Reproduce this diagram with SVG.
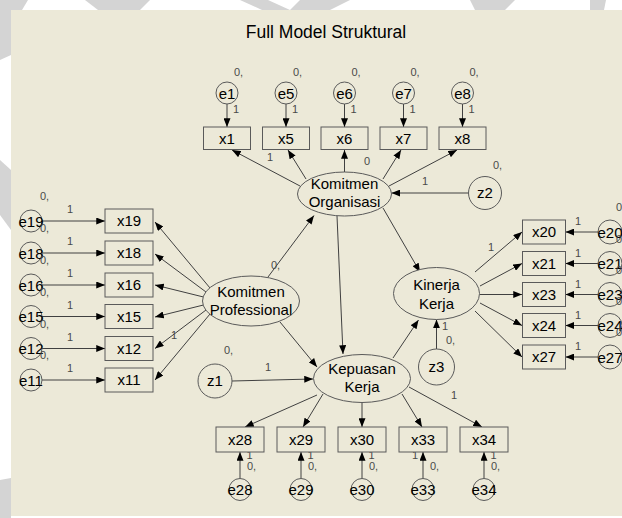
<svg xmlns="http://www.w3.org/2000/svg" width="622" height="518" viewBox="0 0 622 518">
  <style>
    .bg { fill: #ffffff; }
    .wm { fill: #d4d4d4; }
    .panel { fill: #ECE9D8; }
    .box { fill: #ECE9D8; stroke: #5a5a5a; stroke-width: 1; }
    .ell { fill: #ECE9D8; stroke: #5a5a5a; stroke-width: 1; }
    .c { stroke: #404040; stroke-width: 1; fill: none; marker-end: url(#ah); }
    .t { font-family: "Liberation Sans", Arial, sans-serif; font-size: 15px; fill: #000; text-anchor: middle; }
    .title { font-family: "Liberation Sans", Arial, sans-serif; font-size: 17.5px; fill: #000; text-anchor: middle; }
    .p { font-family: "Liberation Sans", Arial, sans-serif; font-size: 11px; fill: #4a4a4a; }
  </style>
  <defs>
    <marker id="ah" viewBox="0 0 10 8" refX="10" refY="4" markerWidth="9" markerHeight="7" markerUnits="userSpaceOnUse" orient="auto">
      <path d="M0,0 L10,4 L0,8 z" fill="#000"/>
    </marker>
  </defs>

  <!-- page background and frame -->
  <rect class="bg" x="0" y="0" width="622" height="518"/>
  <g id="margin-marks">
    <polygon class="wm" points="0,0 28,0 22,10 0,10"/>
    <polygon class="wm" points="85,0 150,0 140,10 98,10"/>
    <polygon class="wm" points="240,0 268,0 290,10 262,10"/>
    <polygon class="wm" points="300,0 350,0 330,10 290,10"/>
    <polygon class="wm" points="470,0 515,0 505,10 475,10"/>
    <polygon class="wm" points="590,0 606,0 604,10 590,10"/>
    <polygon class="wm" points="0,0 11,0 11,55 0,60"/>
    <polygon class="wm" points="0,160 11,170 11,230 0,215"/>
    <polygon class="wm" points="0,480 11,478 11,518 0,518"/>
  </g>
  <rect class="panel" x="11" y="10" width="611" height="506"/>

  <text class="title" x="326" y="38">Full Model Struktural</text>

  <!-- connectors -->
  <g id="connectors">
    <!-- error terms to indicators (top) -->
    <line class="c" x1="227" y1="104" x2="227" y2="127"/>
    <line class="c" x1="286" y1="104" x2="286" y2="127"/>
    <line class="c" x1="344.5" y1="104" x2="344.5" y2="127"/>
    <line class="c" x1="403.5" y1="104" x2="403.5" y2="127"/>
    <line class="c" x1="462.5" y1="104" x2="462.5" y2="127"/>
    <!-- error terms to indicators (left) -->
    <line class="c" x1="42" y1="221" x2="105" y2="221"/>
    <line class="c" x1="42" y1="253" x2="105" y2="253"/>
    <line class="c" x1="42" y1="285" x2="105" y2="285"/>
    <line class="c" x1="42" y1="316.5" x2="105" y2="316.5"/>
    <line class="c" x1="42" y1="348.5" x2="105" y2="348.5"/>
    <line class="c" x1="42" y1="380" x2="105" y2="380"/>
    <!-- error terms to indicators (right) -->
    <line class="c" x1="598" y1="232" x2="565.5" y2="232"/>
    <line class="c" x1="598" y1="263.5" x2="565.5" y2="263.5"/>
    <line class="c" x1="598" y1="294.5" x2="565.5" y2="294.5"/>
    <line class="c" x1="598" y1="325.5" x2="565.5" y2="325.5"/>
    <line class="c" x1="598" y1="357" x2="565.5" y2="357"/>
    <!-- error terms to indicators (bottom) -->
    <line class="c" x1="240" y1="478.5" x2="240" y2="452"/>
    <line class="c" x1="301" y1="478.5" x2="301" y2="452"/>
    <line class="c" x1="362" y1="478.5" x2="362" y2="452"/>
    <line class="c" x1="423" y1="478.5" x2="423" y2="452"/>
    <line class="c" x1="484" y1="478.5" x2="484" y2="452"/>

    <!-- Komitmen Organisasi loadings -->
    <line class="c" x1="300" y1="186" x2="232" y2="150"/>
    <line class="c" x1="306" y1="179" x2="288" y2="150"/>
    <line class="c" x1="344.5" y1="172" x2="344.5" y2="150"/>
    <line class="c" x1="383" y1="179" x2="401" y2="150"/>
    <line class="c" x1="389" y1="186" x2="457" y2="150"/>
    <!-- Komitmen Professional loadings -->
    <line class="c" x1="210" y1="288" x2="155" y2="222"/>
    <line class="c" x1="206" y1="292" x2="155" y2="254"/>
    <line class="c" x1="203.5" y1="297" x2="155" y2="285"/>
    <line class="c" x1="203.5" y1="305" x2="155" y2="317"/>
    <line class="c" x1="206" y1="310" x2="155" y2="348.5"/>
    <line class="c" x1="210" y1="314" x2="155" y2="380"/>
    <!-- Kinerja Kerja loadings -->
    <line class="c" x1="475" y1="272" x2="522" y2="232"/>
    <line class="c" x1="480" y1="286" x2="522" y2="263.5"/>
    <line class="c" x1="480" y1="294.5" x2="522" y2="294.5"/>
    <line class="c" x1="480" y1="303" x2="522" y2="325.5"/>
    <line class="c" x1="475" y1="311" x2="522" y2="357"/>
    <!-- Kepuasan Kerja loadings -->
    <line class="c" x1="317" y1="395" x2="245" y2="427"/>
    <line class="c" x1="323" y1="394" x2="303" y2="427"/>
    <line class="c" x1="362" y1="402.5" x2="362" y2="427"/>
    <line class="c" x1="402" y1="394" x2="422" y2="427"/>
    <line class="c" x1="409" y1="387" x2="482" y2="427"/>

    <!-- structural paths -->
    <line class="c" x1="268" y1="277" x2="314" y2="215.5"/>
    <line class="c" x1="337" y1="216" x2="343" y2="354"/>
    <line class="c" x1="383" y1="208" x2="420" y2="272"/>
    <line class="c" x1="280" y1="322" x2="317" y2="367"/>
    <line class="c" x1="232" y1="381" x2="313" y2="379"/>
    <line class="c" x1="393" y1="358" x2="418.5" y2="320"/>
    <line class="c" x1="436.5" y1="349" x2="436.5" y2="319.5"/>
    <line class="c" x1="469" y1="193" x2="391.5" y2="193"/>

    <!-- path coefficients -->
    <text class="p" x="267" y="160.5">1</text>
    <text class="p" x="364" y="165">0</text>
    <text class="p" x="422" y="185">1</text>
    <text class="p" x="271" y="269">0,</text>
    <text class="p" x="171" y="339">1</text>
    <text class="p" x="488" y="250.5">1</text>
    <text class="p" x="442" y="330">1</text>
    <text class="p" x="265" y="371">1</text>
    <text class="p" x="451" y="399">1</text>
    <!-- error weights (top) -->
    <text class="p" x="233" y="112.5">1</text>
    <text class="p" x="292" y="112.5">1</text>
    <text class="p" x="350.5" y="112.5">1</text>
    <text class="p" x="409.5" y="112.5">1</text>
    <text class="p" x="468.5" y="112.5">1</text>
    <!-- error weights (left) -->
    <text class="p" x="67" y="213">1</text>
    <text class="p" x="67" y="245">1</text>
    <text class="p" x="67" y="277">1</text>
    <text class="p" x="67" y="308.5">1</text>
    <text class="p" x="67" y="340.5">1</text>
    <text class="p" x="67" y="372">1</text>
    <!-- error weights (right) -->
    <text class="p" x="575" y="225">1</text>
    <text class="p" x="575" y="256.5">1</text>
    <text class="p" x="575" y="287.5">1</text>
    <text class="p" x="575" y="318.5">1</text>
    <text class="p" x="575" y="350">1</text>
    <!-- error weights (bottom) -->
    <text class="p" x="246.5" y="458.5">1</text>
    <text class="p" x="307.5" y="458.5">1</text>
    <text class="p" x="368.5" y="458.5">1</text>
    <text class="p" x="412" y="458.5">1</text>
    <text class="p" x="490.5" y="458.5">1</text>
  </g>

  <!-- latent constructs -->
  <g id="komitmen-organisasi">
    <ellipse class="ell" cx="344.5" cy="194" rx="47" ry="22"/>
    <text class="t" x="344.5" y="188.5">Komitmen</text>
    <text class="t" x="344.5" y="206.5">Organisasi</text>
  </g>
  <g id="komitmen-professional">
    <ellipse class="ell" cx="251" cy="301" rx="48.5" ry="25"/>
    <text class="t" x="251" y="297">Komitmen</text>
    <text class="t" x="251" y="315">Professional</text>
  </g>
  <g id="kinerja-kerja">
    <ellipse class="ell" cx="436.5" cy="293.5" rx="43" ry="26"/>
    <text class="t" x="436.5" y="290">Kinerja</text>
    <text class="t" x="436.5" y="309">Kerja</text>
  </g>
  <g id="kepuasan-kerja">
    <ellipse class="ell" cx="362" cy="378.5" rx="48.5" ry="24"/>
    <text class="t" x="362" y="373.5">Kepuasan</text>
    <text class="t" x="362" y="392">Kerja</text>
  </g>

  <!-- disturbances -->
  <g id="z1">
    <circle class="ell" cx="215" cy="381" r="17"/>
    <text class="t" x="215" y="386">z1</text>
    <text class="p" x="224" y="354">0,</text>
  </g>
  <g id="z2">
    <circle class="ell" cx="485" cy="193" r="16.5"/>
    <text class="t" x="485" y="198">z2</text>
    <text class="p" x="493" y="169">0,</text>
  </g>
  <g id="z3">
    <circle class="ell" cx="436.5" cy="367" r="18"/>
    <text class="t" x="436.5" y="372">z3</text>
    <text class="p" x="446" y="344">0,</text>
  </g>

  <!-- indicators of Komitmen Organisasi -->
  <g id="x1"><rect class="box" x="203.5" y="127" width="47" height="22.5"/><text class="t" x="227" y="143.5">x1</text></g>
  <g id="x5"><rect class="box" x="262.5" y="127" width="47" height="22.5"/><text class="t" x="286" y="143.5">x5</text></g>
  <g id="x6"><rect class="box" x="321" y="127" width="47" height="22.5"/><text class="t" x="344.5" y="143.5">x6</text></g>
  <g id="x7"><rect class="box" x="380" y="127" width="47" height="22.5"/><text class="t" x="403.5" y="143.5">x7</text></g>
  <g id="x8"><rect class="box" x="439" y="127" width="47" height="22.5"/><text class="t" x="462.5" y="143.5">x8</text></g>

  <g id="e1"><circle class="ell" cx="227" cy="93" r="11"/><text class="t" x="227" y="98.5">e1</text><text class="p" x="234" y="76">0,</text></g>
  <g id="e5"><circle class="ell" cx="286" cy="93" r="11"/><text class="t" x="286" y="98.5">e5</text><text class="p" x="293" y="76">0,</text></g>
  <g id="e6"><circle class="ell" cx="344.5" cy="93" r="11"/><text class="t" x="344.5" y="98.5">e6</text><text class="p" x="351.5" y="76">0,</text></g>
  <g id="e7"><circle class="ell" cx="403.5" cy="93" r="11"/><text class="t" x="403.5" y="98.5">e7</text><text class="p" x="410.5" y="76">0,</text></g>
  <g id="e8"><circle class="ell" cx="462.5" cy="93" r="11"/><text class="t" x="462.5" y="98.5">e8</text><text class="p" x="469.5" y="76">0,</text></g>

  <!-- indicators of Komitmen Professional -->
  <g id="x19"><rect class="box" x="105" y="209" width="48" height="24"/><text class="t" x="129" y="226">x19</text></g>
  <g id="x18"><rect class="box" x="105" y="241" width="48" height="24"/><text class="t" x="129" y="258">x18</text></g>
  <g id="x16"><rect class="box" x="105" y="273" width="48" height="24"/><text class="t" x="129" y="290">x16</text></g>
  <g id="x15"><rect class="box" x="105" y="304.5" width="48" height="24"/><text class="t" x="129" y="321.5">x15</text></g>
  <g id="x12"><rect class="box" x="105" y="336.5" width="48" height="24"/><text class="t" x="129" y="353.5">x12</text></g>
  <g id="x11"><rect class="box" x="105" y="368" width="48" height="24"/><text class="t" x="129" y="385">x11</text></g>

  <g id="e19"><circle class="ell" cx="31" cy="221" r="11"/><text class="t" x="31" y="226.5">e19</text><text class="p" x="40" y="200">0,</text></g>
  <g id="e18"><circle class="ell" cx="31" cy="253" r="11"/><text class="t" x="31" y="258.5">e18</text><text class="p" x="40" y="232">0,</text></g>
  <g id="e16"><circle class="ell" cx="31" cy="285" r="11"/><text class="t" x="31" y="290.5">e16</text><text class="p" x="40" y="264">0,</text></g>
  <g id="e15"><circle class="ell" cx="31" cy="316.5" r="11"/><text class="t" x="31" y="322">e15</text><text class="p" x="40" y="295.5">0,</text></g>
  <g id="e12"><circle class="ell" cx="31" cy="348.5" r="11"/><text class="t" x="31" y="354">e12</text><text class="p" x="40" y="327.5">0,</text></g>
  <g id="e11"><circle class="ell" cx="31" cy="380" r="11"/><text class="t" x="31" y="385.5">e11</text><text class="p" x="40" y="359">0,</text></g>

  <!-- indicators of Kinerja Kerja -->
  <g id="x20"><rect class="box" x="522.5" y="220" width="43" height="24"/><text class="t" x="544" y="237">x20</text></g>
  <g id="x21"><rect class="box" x="522.5" y="251.5" width="43" height="24"/><text class="t" x="544" y="268.5">x21</text></g>
  <g id="x23"><rect class="box" x="522.5" y="282.5" width="43" height="24"/><text class="t" x="544" y="299.5">x23</text></g>
  <g id="x24"><rect class="box" x="522.5" y="313.5" width="43" height="24"/><text class="t" x="544" y="330.5">x24</text></g>
  <g id="x27"><rect class="box" x="522.5" y="345" width="43" height="24"/><text class="t" x="544" y="362">x27</text></g>

  <g id="e20"><circle class="ell" cx="610" cy="232" r="12"/><text class="t" x="610" y="237.5">e20</text><text class="p" x="616" y="211">0</text></g>
  <g id="e21"><circle class="ell" cx="610" cy="263.5" r="12"/><text class="t" x="610" y="269">e21</text><text class="p" x="616" y="242.5">0,</text></g>
  <g id="e23"><circle class="ell" cx="610" cy="294.5" r="12"/><text class="t" x="610" y="300">e23</text><text class="p" x="616" y="273.5">0,</text></g>
  <g id="e24"><circle class="ell" cx="610" cy="325.5" r="12"/><text class="t" x="610" y="331">e24</text><text class="p" x="616" y="304.5">0,</text></g>
  <g id="e27"><circle class="ell" cx="610" cy="357" r="12"/><text class="t" x="610" y="362.5">e27</text><text class="p" x="616" y="336">0,</text></g>

  <!-- indicators of Kepuasan Kerja -->
  <g id="x28"><rect class="box" x="216" y="427" width="48" height="25"/><text class="t" x="240" y="444.5">x28</text></g>
  <g id="x29"><rect class="box" x="277" y="427" width="48" height="25"/><text class="t" x="301" y="444.5">x29</text></g>
  <g id="x30"><rect class="box" x="338" y="427" width="48" height="25"/><text class="t" x="362" y="444.5">x30</text></g>
  <g id="x33"><rect class="box" x="399" y="427" width="48" height="25"/><text class="t" x="423" y="444.5">x33</text></g>
  <g id="x34"><rect class="box" x="460" y="427" width="48" height="25"/><text class="t" x="484" y="444.5">x34</text></g>

  <g id="e28"><circle class="ell" cx="240" cy="489.5" r="11"/><text class="t" x="240" y="495">e28</text><text class="p" x="247" y="470">0,</text></g>
  <g id="e29"><circle class="ell" cx="301" cy="489.5" r="11"/><text class="t" x="301" y="495">e29</text><text class="p" x="308" y="470">0,</text></g>
  <g id="e30"><circle class="ell" cx="362" cy="489.5" r="11"/><text class="t" x="362" y="495">e30</text><text class="p" x="369" y="470">0,</text></g>
  <g id="e33"><circle class="ell" cx="423" cy="489.5" r="11"/><text class="t" x="423" y="495">e33</text><text class="p" x="430" y="470">0,</text></g>
  <g id="e34"><circle class="ell" cx="484" cy="489.5" r="11"/><text class="t" x="484" y="495">e34</text><text class="p" x="491" y="470">0,</text></g>
</svg>
